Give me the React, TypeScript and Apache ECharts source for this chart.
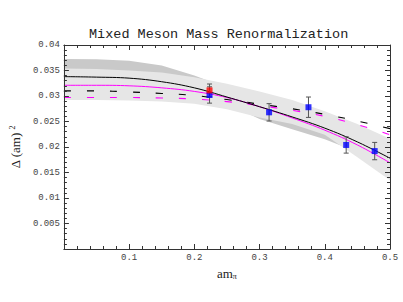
import React, { useEffect, useRef } from 'react';
import * as echarts from 'echarts';

// sample abscissae of the fitted curves / bands
const fitX = [0, 0.05, 0.1, 0.15, 0.2, 0.25, 0.3, 0.35, 0.4, 0.45, 0.5];
const fitBlack = [0.0338, 0.0337, 0.0335, 0.0328, 0.0316, 0.0298, 0.0279, 0.0259, 0.0237, 0.021, 0.0178];
const fitMagenta = [0.0321, 0.0321, 0.032, 0.0316, 0.0309, 0.0297, 0.0279, 0.0257, 0.0233, 0.0204, 0.0169];
const dashBlack = [0.031, 0.031, 0.0308, 0.0305, 0.0301, 0.0293, 0.0284, 0.0275, 0.0264, 0.0251, 0.0236];
const dashMagenta = [0.0297, 0.0297, 0.0297, 0.0296, 0.0294, 0.0289, 0.0281, 0.0272, 0.026, 0.0244, 0.0224];
const darkUpper = [0.03725, 0.0372, 0.0369, 0.036, 0.034, 0.0316, 0.03, 0.0282, 0.0262, 0.0238, 0.0208];
const darkLower = [0.032, 0.032, 0.0318, 0.0315, 0.0305, 0.0285, 0.0255, 0.0235, 0.0215, 0.019, 0.016];
const lightUpper = [0.0354, 0.0353, 0.035, 0.0346, 0.0337, 0.0324, 0.0309, 0.0292, 0.027, 0.0245, 0.0216];
const lightLower = [0.0292, 0.0292, 0.0291, 0.0289, 0.0285, 0.0274, 0.0258, 0.0245, 0.0224, 0.018, 0.0135];

// data points
const blueX = [0.2233, 0.3146, 0.375, 0.4328, 0.4765];
const blueY = [0.0302, 0.0268, 0.0278, 0.0204, 0.0192];
const blueErr = [0.0016, 0.0017, 0.002, 0.0016, 0.0017];
const redX = [0.2233];
const redY = [0.0311];
const redErr = [0.00125];

const TITLE = 'Mixed Meson Mass Renormalization';
const AXIS_COLOR = '#333';
const MONO = 'Liberation Mono, DejaVu Sans Mono, monospace';
const SERIF = 'Liberation Serif, DejaVu Serif, serif';

function bandRenderer(upper: number[], lower: number[], fill: string) {
  return (params: any, api: any) => {
    if (params.dataIndex !== 0) return null;
    const pts: number[][] = [];
    for (let i = 0; i < fitX.length; i++) pts.push(api.coord([fitX[i], upper[i]]));
    for (let i = fitX.length - 1; i >= 0; i--) pts.push(api.coord([fitX[i], lower[i]]));
    return { type: 'polygon', shape: { points: pts }, style: { fill } };
  };
}

function errRenderer(color: string) {
  return (params: any, api: any) => {
    const x = api.value(0);
    const lo = api.value(1);
    const hi = api.value(2);
    const p1 = api.coord([x, hi]);
    const p2 = api.coord([x, lo]);
    const w = 2.5;
    const st = { stroke: color, lineWidth: 1 };
    return {
      type: 'group',
      children: [
        { type: 'line', shape: { x1: p1[0], y1: p1[1], x2: p2[0], y2: p2[1] }, style: st },
        { type: 'line', shape: { x1: p1[0] - w, y1: p1[1], x2: p1[0] + w, y2: p1[1] }, style: st },
        { type: 'line', shape: { x1: p2[0] - w, y1: p2[1], x2: p2[0] + w, y2: p2[1] }, style: st },
      ],
    };
  };
}

const zip = (xs: number[], ys: number[]) => xs.map((x, i) => [x, ys[i]]);

export default function App() {
  const ref = useRef<HTMLDivElement>(null);
  useEffect(() => {
    if (!ref.current) return;
    const chart = echarts.init(ref.current, null, { renderer: 'svg' });
    const tickCommon = {
      axisLine: { show: true, onZero: false, lineStyle: { color: AXIS_COLOR, width: 1 } },
      axisTick: { show: true, inside: true, length: 5, lineStyle: { color: AXIS_COLOR, width: 1 } },
      minorTick: { show: true, splitNumber: 5, length: 3, lineStyle: { color: AXIS_COLOR, width: 1 } },
      splitLine: { show: false },
      minorSplitLine: { show: false },
      z: 5,
    };
    const xBase = { type: 'value', min: 0, max: 0.5, interval: 0.1, ...tickCommon };
    const yBase = { type: 'value', min: 0, max: 0.04, interval: 0.005, ...tickCommon };
    chart.setOption({
      animation: false,
      title: {
        text: TITLE,
        left: 89,
        top: 27,
        padding: 0,
        textStyle: { fontFamily: MONO, fontSize: 13.5, fontWeight: 'normal', color: '#222' },
      },
      grid: { left: 57, right: 13, top: 45, bottom: 53, containLabel: false },
      xAxis: [
        {
          ...xBase,
          position: 'bottom',
          axisLabel: {
            fontFamily: MONO,
            fontSize: 9,
            color: '#444',
            margin: 4,
            formatter: (v: number) => (v === 0 ? '' : String(+v.toFixed(3))),
          },
          name: '{a|am}{b|π}',
          nameLocation: 'middle',
          nameGap: 8,
          nameTextStyle: {
            rich: {
              a: { fontFamily: SERIF, fontSize: 13, color: '#222', lineHeight: 15 },
              b: { fontFamily: SERIF, fontSize: 8, color: '#222', verticalAlign: 'bottom', lineHeight: 15 },
            },
          },
        },
        { ...xBase, position: 'top', axisLabel: { show: false } },
      ],
      yAxis: [
        {
          ...yBase,
          position: 'left',
          axisLabel: {
            fontFamily: MONO,
            fontSize: 9,
            color: '#444',
            margin: 4,
            formatter: (v: number) => (v === 0 ? '' : String(+v.toFixed(4))),
          },
          name: '{a|Δ (am)}{b|2}',
          nameLocation: 'middle',
          nameGap: 33,
          nameRotate: 90,
          nameTextStyle: {
            rich: {
              a: { fontFamily: SERIF, fontSize: 13, color: '#222', lineHeight: 15 },
              b: { fontFamily: SERIF, fontSize: 8, color: '#222', verticalAlign: 'top', lineHeight: 15, padding: [0, 0, 0, 3] },
            },
          },
        },
        { ...yBase, position: 'right', axisLabel: { show: false } },
      ],
      series: [
        {
          type: 'custom',
          data: [[0, 0]],
          encode: { x: 0, y: 1 },
          renderItem: bandRenderer(darkUpper, darkLower, '#c9c9c9'),
          clip: true,
          silent: true,
          z: 1,
        },
        {
          type: 'custom',
          data: [[0, 0]],
          encode: { x: 0, y: 1 },
          renderItem: bandRenderer(lightUpper, lightLower, '#e6e6e6'),
          clip: true,
          silent: true,
          z: 1,
        },
        {
          type: 'line',
          data: zip(fitX, dashBlack),
          smooth: 0.4,
          showSymbol: false,
          lineStyle: { color: '#000', width: 1.1, type: [7, 16] },
          z: 2,
        },
        {
          type: 'line',
          data: zip(fitX, dashMagenta),
          smooth: 0.4,
          showSymbol: false,
          lineStyle: { color: '#ff00ff', width: 1.1, type: [7, 16] },
          z: 2,
        },
        {
          type: 'line',
          data: zip(fitX, fitMagenta),
          smooth: 0.4,
          showSymbol: false,
          lineStyle: { color: '#ff00ff', width: 1 },
          z: 3,
        },
        {
          type: 'line',
          data: zip(fitX, fitBlack),
          smooth: 0.4,
          showSymbol: false,
          lineStyle: { color: '#000', width: 1 },
          z: 3,
        },
        {
          type: 'custom',
          data: blueX.map((x, i) => [x, blueY[i] - blueErr[i], blueY[i] + blueErr[i]]),
          encode: { x: 0, y: [1, 2] },
          renderItem: errRenderer('#555'),
          z: 4,
        },
        {
          type: 'custom',
          data: redX.map((x, i) => [x, redY[i] - redErr[i], redY[i] + redErr[i]]),
          encode: { x: 0, y: [1, 2] },
          renderItem: errRenderer('#555'),
          z: 4,
        },
        {
          type: 'scatter',
          data: zip(blueX, blueY),
          symbol: 'rect',
          symbolSize: 6,
          itemStyle: { color: '#0000ff' },
          z: 5,
        },
        {
          type: 'scatter',
          data: zip(redX, redY),
          symbol: 'rect',
          symbolSize: 6,
          itemStyle: { color: '#ff0000' },
          z: 6,
        },
      ],
    });
    return () => chart.dispose();
  }, []);
  return <div ref={ref} style={{ position: 'absolute', left: 0, top: 0, width: 403, height: 302 }} />;
}
